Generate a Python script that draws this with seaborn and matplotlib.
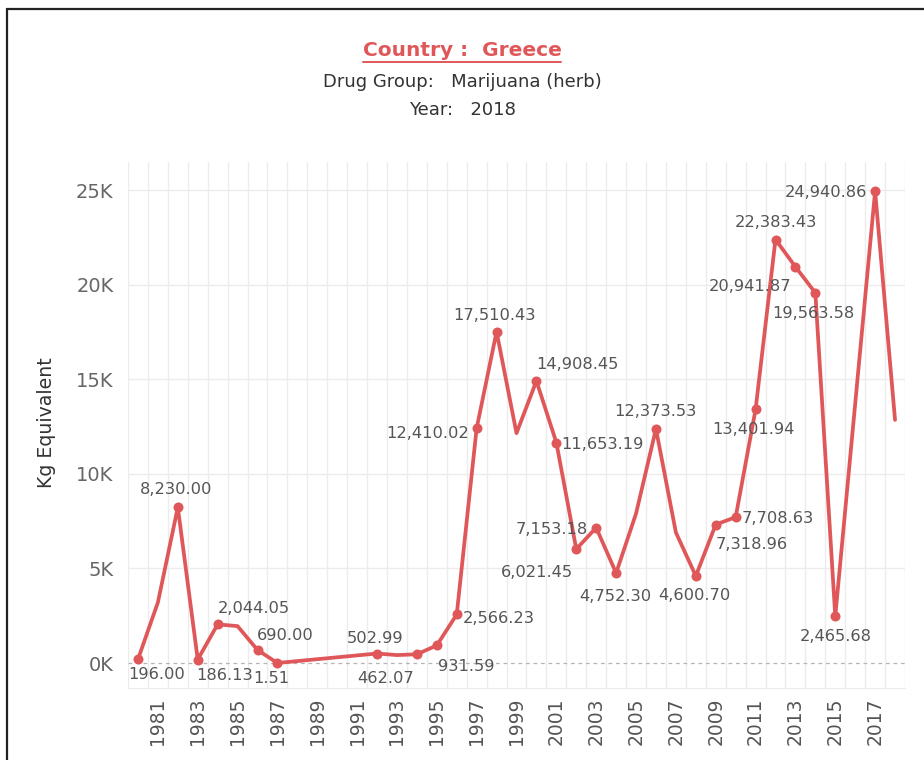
import matplotlib
matplotlib.use("Agg")
import matplotlib.pyplot as plt
import matplotlib.ticker as mticker
from matplotlib.lines import Line2D
import seaborn as sns
import pandas as pd
import numpy as np

# seizures of marijuana (herb) in Greece, kg equivalent
years = [1980, 1981, 1982, 1983, 1984, 1985, 1986, 1987, 1992, 1993, 1994, 1995,
         1996, 1997, 1998, 1999, 2000, 2001, 2002, 2003, 2004, 2005, 2006, 2007,
         2008, 2009, 2010, 2011, 2012, 2013, 2014, 2015, 2017, 2018]
kg = [196.00, 3200, 8230.00, 186.13, 2044.05, 1950, 690.00, 1.51, 502.99, 420, 462.07, 931.59,
      2566.23, 12410.02, 17510.43, 12150, 14908.45, 11653.19, 6021.45, 7153.18, 4752.30, 7900, 12373.53, 6900,
      4600.70, 7318.96, 7708.63, 13401.94, 22383.43, 20941.87, 19563.58, 2465.68, 24940.86, 12850]
labeled_years = [1980, 1982, 1983, 1984, 1986, 1987, 1992, 1994, 1995, 1996, 1997, 1998,
                 2000, 2001, 2002, 2003, 2004, 2006, 2008, 2009, 2010, 2011, 2012, 2013,
                 2014, 2015, 2017]
year_ticks = list(range(1981, 2018, 2))
y_ticks = [0, 5000, 10000, 15000, 20000, 25000]

# label offsets in pixels (dx right, dy down) from the point
label_offsets = {
    1980: (19, 14), 1982: (-2, -19), 1983: (27, 14), 1984: (36, -17), 1986: (28, -16),
    1987: (-6, 14), 1992: (-2, -17), 1994: (-31, 23), 1995: (29, 20), 1996: (42, 3),
    1997: (-49, 4), 1998: (-2, -18), 2000: (41, -18), 2001: (46, 0), 2002: (-39, 22),
    2003: (-44, 0), 2004: (-1, 22), 2006: (-1, -19), 2008: (-1, 18), 2009: (36, 18),
    2010: (42, 0), 2011: (-2, 19), 2012: (0, -19), 2013: (-45, 18), 2014: (-2, 19),
    2015: (0, 19), 2017: (-49, 0),
}

RED = "#E0575A"

df = pd.DataFrame({"Year": years, "Kg": kg})
marked = df[df["Year"].isin(labeled_years)]

sns.set_style("white")
plt.rcParams["font.family"] = ["DejaVu Sans"]

fig = plt.figure(figsize=(9.24, 7.6), dpi=100)
ax = fig.add_axes([128 / 924, 1 - 688 / 760, 777 / 924, 526 / 760])

sns.lineplot(data=df, x="Year", y="Kg", ax=ax, color=RED, linewidth=2.7, zorder=3)
sns.scatterplot(data=marked, x="Year", y="Kg", ax=ax, color=RED, s=52,
                edgecolor=RED, linewidth=0, zorder=4)

for _, row in marked.iterrows():
    dx, dy = label_offsets[int(row["Year"])]
    ax.annotate(f"{row['Kg']:,.2f}", (row["Year"], row["Kg"]),
                xytext=(dx * 0.72, -dy * 0.72), textcoords="offset points",
                ha="center", va="center_baseline", fontsize=11.7, color="#555555", zorder=5)

# axes / grid
ax.set_xlim(1979.5, 2018.5)
ax.set_ylim(-1320, 26480)
ax.set_xticks(year_ticks)
ax.set_xticklabels([str(y) for y in year_ticks], rotation=90)
ax.set_xticks(np.arange(1979.5, 2019, 1), minor=True)
ax.set_yticks(y_ticks)
ax.yaxis.set_major_formatter(mticker.FuncFormatter(lambda v, p: f"{v / 1000:.0f}K"))

ax.grid(False)
ax.grid(which="minor", axis="x", color="#ececec", linewidth=1)
ax.grid(which="major", axis="y", color="#ececec", linewidth=1)
ax.get_ygridlines()[0].set_visible(False)
ax.axhline(0, color="#b5b5b5", linewidth=0.9, linestyle=(0, (3, 3)), zorder=2)

for side in ["top", "right", "left"]:
    ax.spines[side].set_visible(False)
ax.spines["bottom"].set_color("#ececec")

ax.tick_params(axis="x", which="major", length=0, labelsize=13.5, labelcolor="#555555", pad=7)
ax.tick_params(axis="x", which="minor", length=5, color="#e6e6e6", width=1)
ax.tick_params(axis="y", which="major", length=7, color="#ececec", labelsize=14,
               labelcolor="#666666", pad=3.5)
ax.set_xlabel("")
ax.set_ylabel("")

fig.text(47 / 924, 1 - 423 / 760, "Kg Equivalent", rotation=90, ha="center", va="center",
         fontsize=13.6, color="#333333")

# titles
title = fig.text(0.5, 1 - 50 / 760, "Country :  Greece", ha="center", va="center",
                 fontsize=14.5, fontweight="bold", color=RED)
fig.text(0.5, 1 - 82 / 760, "Drug Group:   Marijuana (herb)", ha="center", va="center",
         fontsize=13, color="#333333")
fig.text(0.5, 1 - 110 / 760, "Year:   2018", ha="center", va="center",
         fontsize=13, color="#333333")

# underline the title
fig.canvas.draw()
bb = title.get_window_extent(fig.canvas.get_renderer())
uy = (760 - 61.5) / 760
fig.add_artist(Line2D([bb.x0 / 924, bb.x1 / 924], [uy, uy], color=RED, linewidth=1.4))

# outer frame (only top and left edges visible)
fig.add_artist(Line2D([7.5 / 924, 7.5 / 924], [0, 1 - 8.5 / 760], color="#222222", linewidth=1.6))
fig.add_artist(Line2D([7.5 / 924, 1], [1 - 8.5 / 760, 1 - 8.5 / 760], color="#222222", linewidth=1.6))

fig.savefig("out.png", dpi=100)
